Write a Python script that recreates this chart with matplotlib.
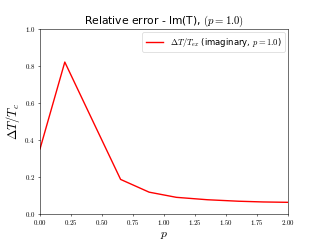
import matplotlib
matplotlib.use("Agg")
import matplotlib.pyplot as plt

# relative error of the imaginary part against p
p_values = [0.0, 0.2, 0.43, 0.65, 0.88, 1.1, 1.35, 1.6, 1.8, 2.0]
rel_error = [0.35, 0.82, 0.495, 0.185, 0.116, 0.088, 0.075, 0.067, 0.063, 0.061]

plt.rcParams['mathtext.fontset'] = 'cm'
plt.rcParams['axes.formatter.use_mathtext'] = True

fig = plt.figure(figsize=(6.4, 4.8), dpi=50)
ax = fig.subplots()
ax.plot(p_values, rel_error, color='red', lw=2,
        label=r'$\Delta T/T_{ex}$ (imaginary, $p = 1.0$)')

ax.set_xlim(0, 2)
ax.set_ylim(0, 1)
ax.set_xticks([0, 0.25, 0.5, 0.75, 1.0, 1.25, 1.5, 1.75, 2.0])
ax.set_xticklabels([f'${v:.2f}$' for v in ax.get_xticks()])
ax.set_yticks([0, 0.2, 0.4, 0.6, 0.8, 1.0])
ax.set_yticklabels([f'${v:.1f}$' for v in ax.get_yticks()])
ax.set_xlabel(r'$p$', fontsize=17, labelpad=1)
ax.set_ylabel(r'$\Delta T/T_c$', fontsize=18)
ax.set_title(r'Relative error - Im(T), $(p = 1.0)$', fontsize=15.5)
ax.legend(loc='upper right', fontsize=12.3, borderaxespad=0.4)

fig.savefig("out.png", dpi=50)
